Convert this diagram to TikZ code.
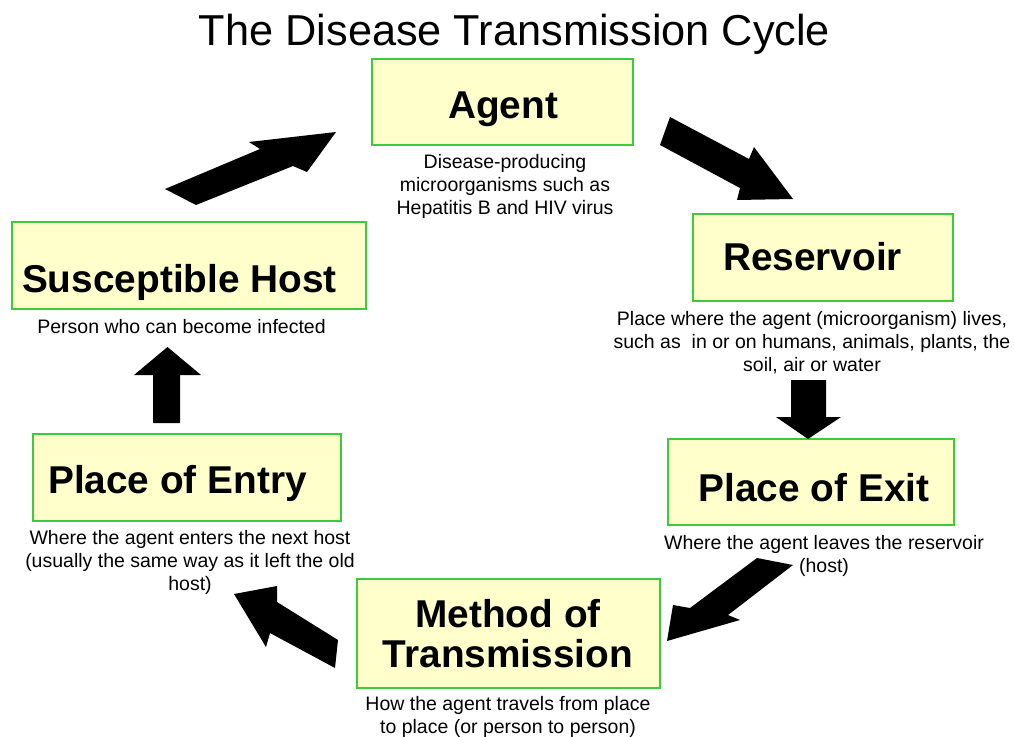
\documentclass[tikz,border=0pt]{standalone}
\usepackage{fontspec}
\setmainfont{Liberation Sans}
\definecolor{boxfill}{HTML}{FFFFCC}
\definecolor{boxline}{HTML}{3CCB3C}
\begin{document}
\begin{tikzpicture}[x=1pt,y=-1pt,
  box/.style={draw=boxline,fill=boxfill,line width=2.2pt,rectangle,inner sep=0pt},
  ttl/.style={font=\fontsize{38.8}{40}\selectfont\bfseries,inner sep=0pt,anchor=base,align=center},
  desc/.style={font=\fontsize{19.5}{23}\selectfont,inner sep=0pt,anchor=north,align=center},
  blk/.style={fill=black,draw=none}]
\useasboundingbox (0,0) rectangle (1014,736);
% title
\node[inner sep=0pt,anchor=base,font=\fontsize{43.3}{46}\selectfont] (title) at (514.5,45) {The Disease Transmission Cycle};
% boxes
\node[box,minimum width=261pt,minimum height=86pt] (agent) at (502.5,102) {};
\node[box,minimum width=260pt,minimum height=87pt] (reservoir) at (823,257.5) {};
\node[box,minimum width=354pt,minimum height=87pt] (host) at (189,265.5) {};
\node[box,minimum width=308pt,minimum height=87pt] (entry) at (187,477.5) {};
\node[box,minimum width=286pt,minimum height=86pt] (exit) at (811,482) {};
\node[box,minimum width=303pt,minimum height=109pt] (method) at (508.5,633.5) {};
% box titles
\node[ttl] (agentT) at (503,118) {Agent};
\node[ttl] (reservoirT) at (812.5,270) {Reservoir};
\node[ttl] (hostT) at (179.5,292) {Susceptible Host};
\node[ttl] (entryT) at (177.5,493) {Place of Entry};
\node[ttl] (exitT) at (814,501) {Place of Exit};
\node[ttl,anchor=center] (methodT) at (508,634) {Method of\\Transmission};
% descriptions
\node[desc] (agentD) at (505,154) {Disease-producing\\microorganisms such as\\Hepatitis B and HIV virus};
\node[desc] (reservoirD) at (812,311) {Place where the agent (microorganism) lives,\\such as\ \ in or on humans, animals, plants, the\\soil, air or water};
\node[desc] (hostD) at (181.5,319) {Person who can become infected};
\node[desc] (entryD) at (190,530) {Where the agent enters the next host\\(usually the same way as it left the old\\host)};
\node[desc] (exitD) at (824,535) {Where the agent leaves the reservoir\\(host)};
\node[desc] (methodD) at (508,696) {How the agent travels from place\\to place (or person to person)};
% block arrows
\fill[blk] (165,189) -- (260,149) -- (249,142) -- (336,132) -- (307,172) -- (293,166) -- (196,205) -- cycle;
\fill[blk] (670,117) -- (749,159) -- (754,147) -- (793,199) -- (737,200) -- (740,188) -- (660,145) -- cycle;
\fill[blk] (791,380) -- (826,380) -- (826,417) -- (841,417) -- (808,439) -- (776,417) -- (791,417) -- cycle;
\fill[blk] (757,558) -- (793,565) -- (728,615) -- (740,620) -- (667,641) -- (673,605) -- (690,608) -- cycle;
\fill[blk] (338,640) -- (277,602) -- (277,586) -- (234,594) -- (266,647) -- (270,633) -- (335,668) -- cycle;
\fill[blk] (153,423) -- (153,375) -- (134,375) -- (167.5,347) -- (201,375) -- (180,375) -- (180,423) -- cycle;
\end{tikzpicture}
\end{document}
